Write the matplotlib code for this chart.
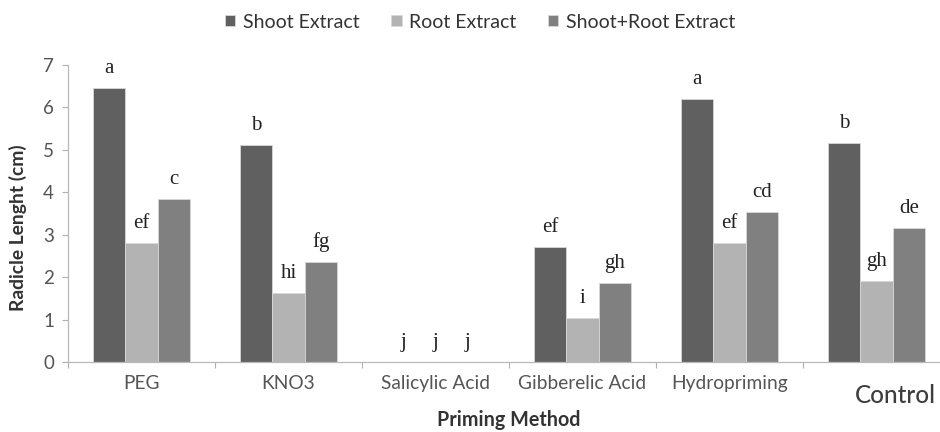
import matplotlib
matplotlib.use("Agg")
import matplotlib.pyplot as plt
import numpy as np

categories = ["PEG", "KNO3", "Salicylic Acid", "Gibberelic Acid", "Hydropriming", "Control"]
series_names = ["Shoot Extract", "Root Extract", "Shoot+Root Extract"]
shoot = [6.46, 5.12, 0.0, 2.71, 6.20, 5.16]
root = [2.80, 1.63, 0.0, 1.04, 2.80, 1.91]
shoot_root = [3.84, 2.36, 0.0, 1.86, 3.54, 3.16]
letters_shoot = ["a", "b", "j", "ef", "a", "b"]
letters_root = ["ef", "hi", "j", "i", "ef", "gh"]
letters_sr = ["c", "fg", "j", "gh", "cd", "de"]
yticks = [0, 1, 2, 3, 4, 5, 6, 7]

colors = ["#606060", "#b3b3b3", "#808080"]
sans = ["Lato", "DejaVu Sans"]
serif = ["Liberation Serif", "DejaVu Serif"]

fig = plt.figure(figsize=(9.4, 4.32), dpi=100)
ax = fig.add_axes([68/940, 1-362/432, 882/940, (362-65)/432])

x = np.arange(len(categories))
w = 0.221
series = [shoot, root, shoot_root]
letters = [letters_shoot, letters_root, letters_sr]
for i, (vals, col, name, labs) in enumerate(zip(series, colors, series_names, letters)):
    pos = x + (i - 1) * w
    ax.bar(pos, vals, width=w, color=col, edgecolor="#d8d8d8", linewidth=0.6, label=name, zorder=2)
    for p, v, t in zip(pos, vals, labs):
        ax.annotate(t, (p, v), xytext=(0, 15), textcoords="offset pixels",
                    ha="center", va="baseline", fontsize=15, family=serif, color="#222222")

ax.set_xlim(-0.5, len(categories) - 0.5)
ax.set_ylim(0, 7)
ax.set_yticks(yticks)
ax.set_yticklabels([str(t) for t in yticks], fontsize=13.5, family=sans, color="#555555")
ax.set_xticks(np.arange(-0.5, len(categories), 1.0))
ax.set_xticklabels([])
ax.tick_params(axis="x", direction="out", length=4, color="#b0b0b0", width=0.8)
ax.tick_params(axis="y", direction="out", length=4, color="#b0b0b0", width=0.8, pad=6)
for s in ["top", "right"]:
    ax.spines[s].set_visible(False)
for s in ["left", "bottom"]:
    ax.spines[s].set_color("#b8b8b8")
    ax.spines[s].set_linewidth(0.9)

# category labels
for xi, c in zip(x, categories):
    if c == "Control":
        ax.annotate(c, (xi, 0), xycoords=("data", "axes fraction"), xytext=(19, -22),
                    textcoords="offset pixels", ha="center", va="top", fontsize=17.5,
                    fontweight="medium", family=sans, color="#3e3e3e")
    else:
        ax.annotate(c, (xi, 0), xycoords=("data", "axes fraction"), xytext=(0, -13),
                    textcoords="offset pixels", ha="center", va="top", fontsize=13.8,
                    family=sans, color="#555555")

fig.text(509/940, 1-420/432, "Priming Method", ha="center", va="center", fontsize=14.2,
         fontweight="bold", family=sans, color="#333333")
fig.text(18/940, 1-228/432, "Radicle Lenght (cm)", ha="center", va="center", rotation=90,
         fontsize=13.9, fontweight="bold", family=sans, color="#333333")

leg = fig.legend(loc="center", bbox_to_anchor=(480/940, 1-22/432), ncol=3, frameon=False,
                 prop={"family": sans, "size": 14}, handlelength=0.55, handleheight=0.55,
                 handletextpad=0.4, columnspacing=1.6)
for t in leg.get_texts():
    t.set_color("#333333")

fig.savefig("out.png", dpi=100)
